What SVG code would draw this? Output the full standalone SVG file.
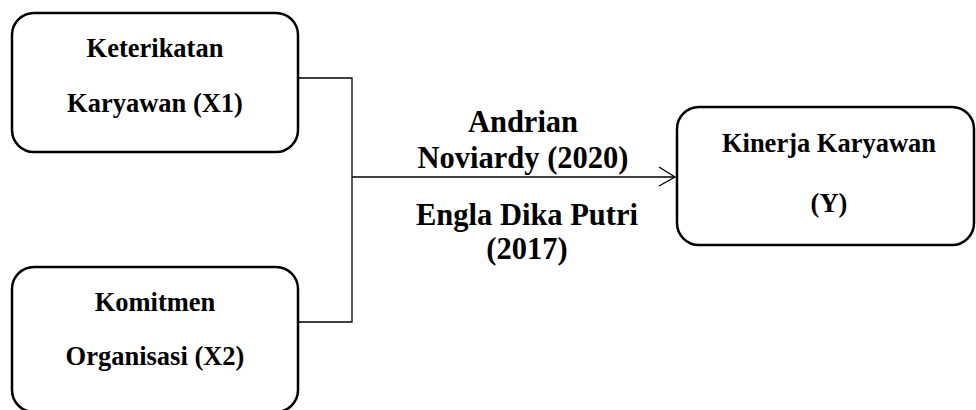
<svg xmlns="http://www.w3.org/2000/svg" width="976" height="410" viewBox="0 0 976 410">
<style>
.box{fill:#fff;stroke:#000;stroke-width:2.5}
.lbl{font-family:"Liberation Serif","Times New Roman",serif;font-weight:bold;font-size:26.5px;fill:#000;text-anchor:middle}
.mid{font-family:"Liberation Serif","Times New Roman",serif;font-weight:bold;font-size:30.5px;fill:#000;text-anchor:middle}
.con{fill:none;stroke:#000;stroke-width:1.3}
</style>
<rect width="976" height="410" fill="#fff"/>
<g id="connectors">
<polyline class="con" points="298,78 352,78 352,322 298,322"/>
<line class="con" x1="352" y1="177" x2="675" y2="177"/>
<polyline class="con" points="659,167 675,177 659,186"/>
</g>
<g id="x1">
<rect class="box" x="12" y="13" width="286" height="139" rx="22"/>
<text class="lbl" x="155" y="57">Keterikatan</text>
<text class="lbl" x="155" y="112">Karyawan (X1)</text>
</g>
<g id="x2">
<rect class="box" x="12" y="267" width="286" height="145" rx="22"/>
<text class="lbl" x="155" y="311">Komitmen</text>
<text class="lbl" x="155" y="365">Organisasi (X2)</text>
</g>
<g id="y">
<rect class="box" x="677" y="107" width="297" height="138" rx="22"/>
<text class="lbl" x="829" y="152">Kinerja Karyawan</text>
<text class="lbl" x="829" y="212">(Y)</text>
</g>
<g id="label">
<text class="mid" x="523" y="132">Andrian</text>
<text class="mid" x="523" y="168">Noviardy (2020)</text>
<text class="mid" x="527" y="225">Engla Dika Putri</text>
<text class="mid" x="527" y="259">(2017)</text>
</g>
</svg>
